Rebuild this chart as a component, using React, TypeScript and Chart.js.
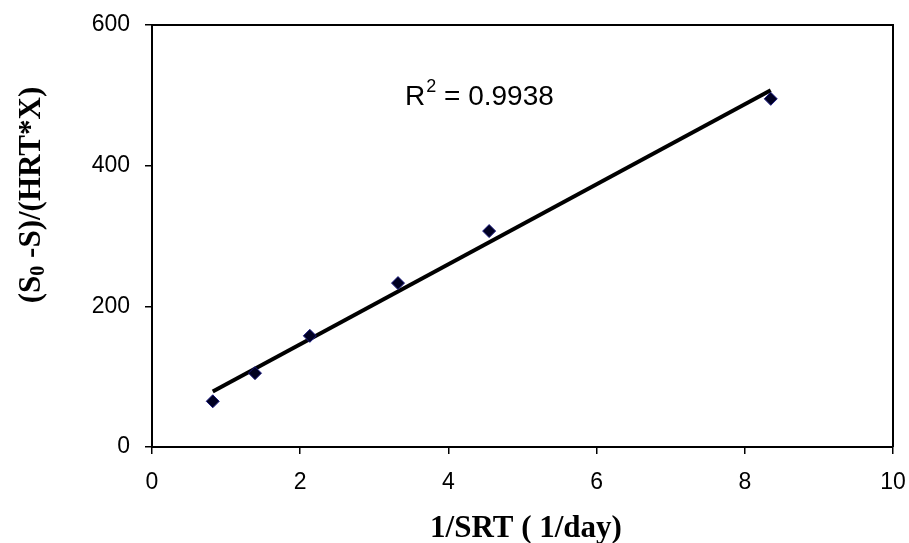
import React, { useEffect, useRef } from "react";
import { Chart, registerables } from "chart.js";

Chart.register(...registerables);

const srtInv: number[] = [0.82, 1.39, 2.13, 3.32, 4.55, 8.35];
const removalRate: number[] = [65, 105, 158, 233, 307, 495];
const xTicks: number[] = [0, 2, 4, 6, 8, 10];
const yTicks: number[] = [0, 200, 400, 600];
const r2Label = "0.9938";
const xTitle = "1/SRT ( 1/day)";

function fitLine(xs: number[], ys: number[]) {
  const n = xs.length;
  const mx = xs.reduce((a, b) => a + b, 0) / n;
  const my = ys.reduce((a, b) => a + b, 0) / n;
  let sxy = 0, sxx = 0;
  for (let i = 0; i < n; i++) {
    sxy += (xs[i] - mx) * (ys[i] - my);
    sxx += (xs[i] - mx) * (xs[i] - mx);
  }
  const slope = sxy / sxx;
  const icpt = my - slope * mx;
  const x0 = Math.min(...xs);
  const x1 = Math.max(...xs);
  return [
    { x: x0, y: icpt + slope * x0 },
    { x: x1, y: icpt + slope * x1 },
  ];
}

const SANS = '"Liberation Sans", Arial, sans-serif';
const SERIF = '"Liberation Serif", "Times New Roman", serif';

const decorPlugin = {
  id: "decor",
  afterDraw(chart: any) {
    const { ctx, chartArea } = chart;
    ctx.save();
    // box top and right
    ctx.strokeStyle = "#000";
    ctx.lineWidth = 2;
    ctx.beginPath();
    ctx.moveTo(chartArea.left, chartArea.top);
    ctx.lineTo(chartArea.right, chartArea.top);
    ctx.lineTo(chartArea.right, chartArea.bottom);
    ctx.stroke();

    // R^2 text
    ctx.fillStyle = "#000";
    ctx.textBaseline = "alphabetic";
    ctx.textAlign = "left";
    let x = 405;
    const base = 105;
    ctx.font = `28px ${SANS}`;
    ctx.fillText("R", x, base);
    x += ctx.measureText("R").width;
    ctx.font = `18px ${SANS}`;
    ctx.fillText("2", x + 1, base - 13);
    x += ctx.measureText("2").width + 1;
    ctx.font = `28px ${SANS}`;
    ctx.fillText(" = " + r2Label, x, base);

    // x title
    ctx.font = `bold 31px ${SERIF}`;
    ctx.textAlign = "center";
    ctx.textBaseline = "alphabetic";
    ctx.fillText(xTitle, 526, 537);

    // y title rotated with subscript
    ctx.translate(40, 195);
    ctx.rotate(-Math.PI / 2);
    const big = `bold 31px ${SERIF}`;
    const small = `bold 20px ${SERIF}`;
    const parts: { t: string; f: string; dy: number }[] = [
      { t: "(S", f: big, dy: 0 },
      { t: "0", f: small, dy: 4 },
      { t: " -S)/(HRT*X)", f: big, dy: 0 },
    ];
    let total = 0;
    for (const p of parts) {
      ctx.font = p.f;
      total += ctx.measureText(p.t).width;
    }
    let cx = -total / 2;
    ctx.textAlign = "left";
    ctx.textBaseline = "alphabetic";
    for (const p of parts) {
      ctx.font = p.f;
      ctx.fillText(p.t, cx, p.dy);
      cx += ctx.measureText(p.t).width;
    }
    ctx.restore();
  },
};

export default function App() {
  const ref = useRef<HTMLCanvasElement | null>(null);
  useEffect(() => {
    if (!ref.current) return;
    const pts = srtInv.map((x, i) => ({ x, y: removalRate[i] }));
    const chart = new Chart(ref.current, {
      type: "scatter",
      data: {
        datasets: [
          {
            label: "trend",
            data: fitLine(srtInv, removalRate),
            showLine: true,
            borderColor: "#000",
            borderWidth: 4,
            pointRadius: 0,
            fill: false,
            order: 1,
          },
          {
            label: "data",
            data: pts,
            pointStyle: "rectRot",
            pointRadius: 6.5,
            backgroundColor: "#000022",
            borderColor: "#1a1a80",
            borderWidth: 1,
            showLine: false,
            order: 0,
          },
        ],
      },
      options: {
        responsive: false,
        animation: false,
        layout: { padding: { top: 25, right: 16, left: 0, bottom: 0 } },
        plugins: {
          legend: { display: false },
          tooltip: { enabled: false },
          title: { display: false },
        },
        scales: {
          x: {
            type: "linear",
            min: 0,
            max: 10,
            afterBuildTicks: (s: any) => {
              s.ticks = xTicks.map((v) => ({ value: v }));
            },
            afterFit: (s: any) => {
              s.height = 96;
              s.paddingLeft = 0;
              s.paddingRight = 0;
            },
            ticks: {
              color: "#000",
              font: { family: SANS, size: 23 },
              padding: 15,
              maxRotation: 0,
            },
            grid: {
              display: true,
              drawOnChartArea: false,
              drawTicks: true,
              tickLength: 7,
              color: "#000",
              lineWidth: 1.5,
            },
            border: { display: true, color: "#000", width: 2 },
          },
          y: {
            type: "linear",
            min: 0,
            max: 600,
            afterBuildTicks: (s: any) => {
              s.ticks = yTicks.map((v) => ({ value: v }));
            },
            afterFit: (s: any) => {
              s.width = 152;
              s.paddingTop = 0;
              s.paddingBottom = 0;
            },
            ticks: {
              color: "#000",
              font: { family: SANS, size: 23 },
              padding: 15,
            },
            grid: {
              display: true,
              drawOnChartArea: false,
              drawTicks: true,
              tickLength: 7,
              color: "#000",
              lineWidth: 1.5,
            },
            border: { display: true, color: "#000", width: 2 },
          },
        },
      },
      plugins: [decorPlugin],
    });
    return () => chart.destroy();
  }, []);
  return (
    <div style={{ position: "absolute", left: 0, top: 0, width: 909, height: 543, background: "#fff" }}>
      <canvas ref={ref} width={909} height={543} />
    </div>
  );
}
